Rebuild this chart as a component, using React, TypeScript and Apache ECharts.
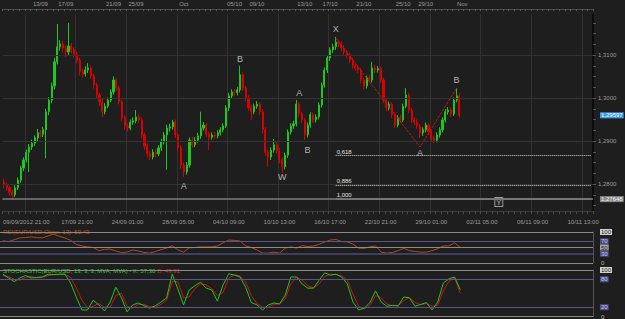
import React, { useEffect, useRef } from "react";
import * as echarts from "echarts";

// ---- price data (EUR/USD, 4H candles) ----
const opens = [
  1.2805, 1.2798, 1.2791, 1.2781, 1.2775, 1.2791, 1.2809, 1.2837, 1.2856, 1.2874,
  1.2886, 1.2895, 1.2907, 1.2919, 1.2916, 1.2926, 1.2968, 1.2995, 1.3028, 1.3084,
  1.3119, 1.3126, 1.3116, 1.3107, 1.3121, 1.3112, 1.3102, 1.3088, 1.3061, 1.3056,
  1.3065, 1.3070, 1.3051, 1.3030, 1.3007, 1.2991, 1.2968, 1.2981, 1.2995, 1.3014,
  1.3042, 1.3023, 1.2991, 1.2954, 1.2935, 1.2930, 1.2944, 1.2947, 1.2956, 1.2949,
  1.2914, 1.2888, 1.2870, 1.2863, 1.2874, 1.2870, 1.2884, 1.2898, 1.2914, 1.2930,
  1.2933, 1.2944, 1.2914, 1.2884, 1.2844, 1.2828, 1.2844, 1.2902, 1.2891, 1.2902,
  1.2912, 1.2930, 1.2937, 1.2916, 1.2909, 1.2914, 1.2912, 1.2919, 1.2926, 1.2935,
  1.2977, 1.3005, 1.3014, 1.3012, 1.3019, 1.3054, 1.3023, 1.3000, 1.2977, 1.2968,
  1.2981, 1.2986, 1.2968, 1.2926, 1.2874, 1.2863, 1.2879, 1.2891, 1.2879, 1.2856,
  1.2840, 1.2867, 1.2921, 1.2935, 1.2940, 1.2986, 1.2963, 1.2949, 1.2914, 1.2937,
  1.2961, 1.2949, 1.2956, 1.2984, 1.3030, 1.3065, 1.3093, 1.3112, 1.3119, 1.3130,
  1.3126, 1.3116, 1.3107, 1.3100, 1.3088, 1.3075, 1.3070, 1.3065, 1.3042, 1.3028,
  1.3047, 1.3042, 1.3070, 1.3065, 1.3068, 1.3042, 1.2995, 1.2977, 1.2986, 1.2961,
  1.2937, 1.2954, 1.2949, 1.2981, 1.3007, 1.2972, 1.2949, 1.2944, 1.2935, 1.2919,
  1.2926, 1.2937, 1.2921, 1.2907, 1.2902, 1.2914, 1.2926, 1.2949, 1.2968, 1.2972,
  1.2963, 1.2995, 1.3005,
];
const closes = [
  1.2798, 1.2791, 1.2781, 1.2775, 1.2791, 1.2809, 1.2837, 1.2856, 1.2874, 1.2886,
  1.2895, 1.2907, 1.2919, 1.2916, 1.2926, 1.2968, 1.2995, 1.3028, 1.3084, 1.3119,
  1.3126, 1.3116, 1.3107, 1.3121, 1.3112, 1.3102, 1.3088, 1.3061, 1.3056, 1.3065,
  1.3070, 1.3051, 1.3030, 1.3007, 1.2991, 1.2968, 1.2981, 1.2995, 1.3014, 1.3042,
  1.3023, 1.2991, 1.2954, 1.2935, 1.2930, 1.2944, 1.2947, 1.2956, 1.2949, 1.2914,
  1.2888, 1.2870, 1.2863, 1.2874, 1.2870, 1.2884, 1.2898, 1.2914, 1.2930, 1.2933,
  1.2944, 1.2914, 1.2884, 1.2844, 1.2828, 1.2844, 1.2902, 1.2891, 1.2902, 1.2912,
  1.2930, 1.2937, 1.2916, 1.2909, 1.2914, 1.2912, 1.2919, 1.2926, 1.2935, 1.2977,
  1.3005, 1.3014, 1.3012, 1.3019, 1.3054, 1.3023, 1.3000, 1.2977, 1.2968, 1.2981,
  1.2986, 1.2968, 1.2926, 1.2874, 1.2863, 1.2879, 1.2891, 1.2879, 1.2856, 1.2840,
  1.2867, 1.2921, 1.2935, 1.2940, 1.2986, 1.2963, 1.2949, 1.2914, 1.2937, 1.2961,
  1.2949, 1.2956, 1.2984, 1.3030, 1.3065, 1.3093, 1.3112, 1.3119, 1.3130, 1.3126,
  1.3116, 1.3107, 1.3100, 1.3088, 1.3075, 1.3070, 1.3065, 1.3042, 1.3028, 1.3047,
  1.3042, 1.3070, 1.3065, 1.3068, 1.3042, 1.2995, 1.2977, 1.2986, 1.2961, 1.2937,
  1.2954, 1.2949, 1.2981, 1.3007, 1.2972, 1.2949, 1.2944, 1.2935, 1.2919, 1.2926,
  1.2937, 1.2921, 1.2907, 1.2902, 1.2914, 1.2926, 1.2949, 1.2968, 1.2972, 1.2963,
  1.2995, 1.3005, 1.2960,
];
const lows = [
  1.2790, 1.2784, 1.2772, 1.2763, 1.2770, 1.2786, 1.2803, 1.2830, 1.2850, 1.2828,
  1.2879, 1.2888, 1.2900, 1.2908, 1.2909, 1.2860, 1.2960, 1.2988, 1.3020, 1.3078,
  1.3110, 1.3105, 1.3095, 1.3100, 1.3103, 1.3094, 1.3080, 1.3052, 1.3047, 1.3050,
  1.3058, 1.3044, 1.3022, 1.2998, 1.2982, 1.2955, 1.2962, 1.2976, 1.2990, 1.3008,
  1.3016, 1.2985, 1.2946, 1.2926, 1.2922, 1.2925, 1.2938, 1.2941, 1.2942, 1.2906,
  1.2880, 1.2862, 1.2855, 1.2857, 1.2862, 1.2865, 1.2877, 1.2892, 1.2833, 1.2922,
  1.2926, 1.2907, 1.2876, 1.2835, 1.2816, 1.2822, 1.2838, 1.2884, 1.2886, 1.2896,
  1.2905, 1.2924, 1.2909, 1.2879, 1.2903, 1.2905, 1.2906, 1.2913, 1.2920, 1.2930,
  1.2970, 1.2998, 1.3004, 1.3006, 1.3013, 1.3016, 1.2993, 1.2970, 1.2949, 1.2962,
  1.2975, 1.2960, 1.2918, 1.2866, 1.2840, 1.2856, 1.2873, 1.2871, 1.2848, 1.2825,
  1.2834, 1.2861, 1.2915, 1.2928, 1.2934, 1.2955, 1.2941, 1.2902, 1.2908, 1.2931,
  1.2942, 1.2943, 1.2950, 1.2978, 1.3024, 1.3058, 1.3086, 1.3105, 1.3112, 1.3119,
  1.3109, 1.3100, 1.3093, 1.3081, 1.3068, 1.3063, 1.3058, 1.3034, 1.3021, 1.3022,
  1.3035, 1.3036, 1.3058, 1.3059, 1.3035, 1.2988, 1.2970, 1.2971, 1.2954, 1.2930,
  1.2932, 1.2942, 1.2944, 1.2976, 1.2965, 1.2942, 1.2937, 1.2928, 1.2907, 1.2912,
  1.2920, 1.2914, 1.2900, 1.2895, 1.2897, 1.2908, 1.2920, 1.2943, 1.2961, 1.2956,
  1.2958, 1.2990, 1.2955,
];
const highs = [
  1.2812, 1.2803, 1.2795, 1.2786, 1.2797, 1.2815, 1.2842, 1.2862, 1.2880, 1.2893,
  1.2903, 1.2913, 1.2928, 1.2925, 1.2933, 1.2975, 1.3002, 1.3036, 1.3093, 1.3172,
  1.3135, 1.3133, 1.3122, 1.3175, 1.3128, 1.3118, 1.3108, 1.3093, 1.3068, 1.3074,
  1.3081, 1.3076, 1.3056, 1.3035, 1.3012, 1.3000, 1.2988, 1.3001, 1.3020, 1.3050,
  1.3048, 1.3028, 1.2996, 1.2960, 1.2941, 1.2950, 1.2955, 1.2972, 1.2962, 1.2955,
  1.2920, 1.2895, 1.2876, 1.2881, 1.2880, 1.2890, 1.2905, 1.2921, 1.2938, 1.2940,
  1.2949, 1.2950, 1.2920, 1.2890, 1.2850, 1.2851, 1.2908, 1.2909, 1.2909, 1.2919,
  1.2968, 1.2944, 1.2942, 1.2922, 1.2920, 1.2921, 1.2925, 1.2932, 1.2941, 1.2983,
  1.3011, 1.3020, 1.3021, 1.3026, 1.3075, 1.3060, 1.3028, 1.3006, 1.2983, 1.2987,
  1.2993, 1.2991, 1.2974, 1.2932, 1.2880, 1.2885, 1.2905, 1.2898, 1.2884, 1.2862,
  1.2873, 1.2927, 1.2941, 1.2947, 1.2995, 1.2990, 1.2968, 1.2954, 1.2943, 1.2967,
  1.2966, 1.2962, 1.2990, 1.3036, 1.3071, 1.3100, 1.3118, 1.3126, 1.3142, 1.3136,
  1.3132, 1.3122, 1.3112, 1.3105, 1.3093, 1.3080, 1.3077, 1.3070, 1.3047, 1.3052,
  1.3053, 1.3084, 1.3076, 1.3074, 1.3073, 1.3047, 1.3000, 1.2992, 1.2990, 1.2966,
  1.2960, 1.2961, 1.2987, 1.3023, 1.3012, 1.2977, 1.2955, 1.2950, 1.2940, 1.2932,
  1.2943, 1.2942, 1.2926, 1.2912, 1.2920, 1.2932, 1.2955, 1.2974, 1.2979, 1.2978,
  1.3001, 1.3023, 1.3010,
];

// ---- indicators (sampled every second candle) ----
const rsi = [
  72, 69, 75, 81, 82, 84, 82, 81, 87, 93,
  86, 81, 73, 60, 55, 52, 50, 40, 44, 45,
  39, 34, 35, 42, 39, 34, 32, 37, 43, 48,
  56, 42, 35, 49, 50, 52, 52, 52, 55, 65,
  74, 73, 71, 55, 50, 42, 32, 32, 35, 32,
  48, 52, 48, 56, 53, 55, 60, 68, 74, 76,
  69, 68, 61, 48, 47, 52, 55, 35, 32, 34,
  40, 47, 40, 37, 35, 35, 40, 46, 55, 55,
  65, 50.43,
];
const stochK = [
  91, 83, 75, 83, 88, 83, 84, 85, 91, 90,
  91, 91, 72, 42, 14, 14, 35, 25, 12, 31,
  63, 40, 10, 25, 29, 23, 18, 23, 31, 40,
  91, 59, 25, 57, 66, 74, 61, 57, 33, 68,
  92, 89, 85, 63, 30, 25, 14, 25, 29, 27,
  46, 85, 85, 70, 61, 61, 78, 94, 89, 91,
  85, 70, 31, 14, 18, 30, 55, 31, 22, 24,
  23, 42, 40, 22, 26, 30, 14, 31, 72, 81,
  85, 57.3,
];
const stochD = [
  88, 86, 80, 78, 84, 86, 83, 84, 88, 90,
  90, 91, 84, 62, 35, 18, 22, 28, 20, 20,
  45, 50, 22, 18, 26, 26, 21, 20, 26, 35,
  75, 75, 40, 42, 60, 70, 68, 60, 45, 52,
  82, 90, 87, 74, 45, 28, 20, 20, 26, 27,
  38, 70, 85, 78, 66, 61, 70, 86, 91, 90,
  88, 78, 48, 22, 16, 24, 45, 40, 27, 23,
  23, 34, 41, 30, 25, 28, 22, 24, 55, 76,
  83, 49.91,
];

// ---- axis labels ----
const bottomLabels = [
  "09/09/2012 21:00", "17/09 21:00", "24/09 01:00", "28/09 05:00", "04/10 09:00", "10/10 13:00",
  "16/10 17:00", "22/10 21:00", "29/10 01:00", "02/11 05:00", "06/11 09:00", "10/11 13:00",
];
const topLabels = ["13/09", "17/09", "21/09", "25/09", "Oct", "05/10", "09/10", "13/10", "17/10", "21/10", "25/10", "29/10", "Nov"];
const topLabelIdx = [13, 22, 39, 47, 64, 82, 90, 107, 116, 128, 142, 150, 163];
const priceTicks = [1.28, 1.29, 1.3, 1.31];
const priceMinorTicks = [
  1.275, 1.2775, 1.28, 1.2825, 1.285, 1.2875, 1.29, 1.2925, 1.295, 1.2975,
  1.3, 1.3025, 1.305, 1.3075, 1.31, 1.3125, 1.315, 1.3175,
];

// ---- annotations ----
const lastPrice = 1.29597;
const baseLevel = 1.27648;
const fibNames = ["0,618", "0,886", "1,000"];
const fibValues = [1.2866, 1.2798, 1.27648];
const waveNames = ["A", "B", "W", "A", "B", "X", "A", "B"];
const waveIdx = [64, 84, 99, 105, 108, 118, 148, 161];
const wavePrice = [1.27953, 1.30907, 1.28163, 1.30116, 1.28791, 1.31605, 1.28721, 1.30419];
const zigIdx = [118, 148, 161];
const zigPrice = [1.31395, 1.2886, 1.30233];
const rsiLevels = [100, 70, 50, 30, 0];
const stochLevels = [100, 80, 20, 0];

const FONT = "'Liberation Sans', Arial, sans-serif";
const N_CAT = 210;
const fmt = (v: number) => v.toFixed(4).replace(".", ",");
const fmt5 = (v: number) => v.toFixed(5).replace(".", ",");

function levelStyle(v: number, isStoch: boolean) {
  const blue = isStoch ? v === 80 || v === 20 : v === 70 || v === 30;
  if (blue) {
    return {
      lineStyle: { color: v === 30 ? "#3f3f62" : "#56568c", width: v === 30 ? 2 : 1, type: "solid" },
      label: { show: true, position: "end", distance: 7, formatter: String(v), color: "#c9c9f2", backgroundColor: "#4c4c8a", padding: [0, 1], fontSize: 6, fontFamily: FONT },
    };
  }
  if (v === 0) {
    return {
      lineStyle: { color: "#8a8a8a", width: 1, type: "solid" },
      label: { show: true, position: "end", distance: 8, formatter: "0", color: "#bbbbbb", fontSize: 6, fontFamily: FONT },
    };
  }
  return {
    lineStyle: { color: "#8a8a8a", width: 1, type: "solid" },
    label: { show: true, position: "end", distance: 7, formatter: String(v), color: "#222", backgroundColor: v === 100 ? "#d2d2d2" : "#a6a6a6", padding: [0, 1], fontSize: 6, fontFamily: FONT },
  };
}

function buildOption() {
  const cats = Array.from({ length: N_CAT }, (_, i) => String(i));
  const lowCats = Array.from({ length: N_CAT / 2 }, (_, i) => String(i));
  const candles = opens.map((o, i) => [o, closes[i], lows[i], highs[i]]);

  const gridLines = priceTicks.map((p) => ({
    yAxis: p,
    lineStyle: { color: "#333333", width: 1, type: "solid" },
    label: { show: false },
  }));

  const fibLines = fibNames.map((n, k) => [
    {
      coord: [118, fibValues[k]],
      lineStyle: k === 2
        ? { color: "#7c7c7c", width: 1.5, type: "solid" }
        : { color: "#d6d6c4", width: 1, type: "dotted" },
      label: { show: true, position: "insideStartTop", distance: 1, formatter: n, color: "#e2e2e2", fontSize: 6, fontFamily: FONT },
    },
    { coord: [N_CAT - 1, fibValues[k]] },
  ]);

  const axisText = { color: "#9c9c9c", fontSize: 6, fontFamily: FONT };

  return {
    animation: false,
    backgroundColor: "#1e1e1e",
    textStyle: { fontFamily: FONT },
    grid: [
      { left: 0, top: 14, width: 593, height: 197 },
      { left: 0, top: 232, width: 593, height: 31 },
      { left: 0, top: 270, width: 593, height: 46.5 },
    ],
    xAxis: [
      {
        type: "category", gridIndex: 0, data: cats, boundaryGap: true,
        axisLine: { show: true, lineStyle: { color: "#3a3a3a" } },
        axisTick: { show: true, interval: (i: number) => i % 2 === 0, length: 3, lineStyle: { color: "#4a4a4a" } },
        axisLabel: {
          show: true, interval: (i: number) => i % 18 === 8,
          formatter: (_v: string, i: number) => bottomLabels[(i - 8) / 18] ?? "",
          margin: 8, ...axisText,
        },
        splitLine: { show: true, interval: (i: number) => i % 18 === 8, lineStyle: { color: "#313131", width: 1 } },
      },
      {
        type: "category", gridIndex: 0, data: cats, boundaryGap: true, position: "top", offset: 5,
        axisLine: { show: true, lineStyle: { color: "#4a4a4a" } },
        axisTick: { show: true, inside: true, interval: (i: number) => i % 2 === 0, length: 2, lineStyle: { color: "#5a5a5a" } },
        axisLabel: {
          show: true, interval: (i: number) => topLabelIdx.includes(i),
          formatter: (_v: string, i: number) => topLabels[topLabelIdx.indexOf(i)] ?? "",
          margin: 2, ...axisText,
        },
        splitLine: { show: false },
      },
      {
        type: "category", gridIndex: 1, data: lowCats, boundaryGap: true,
        axisLine: { show: false }, axisTick: { show: false }, axisLabel: { show: false }, splitLine: { show: false },
      },
      {
        type: "category", gridIndex: 2, data: lowCats, boundaryGap: true,
        axisLine: { show: false }, axisTick: { show: false }, axisLabel: { show: false }, splitLine: { show: false },
      },
    ],
    yAxis: [
      {
        type: "value", gridIndex: 0, position: "right", min: 1.273721, max: 1.319535,
        splitLine: { show: false },
        axisLine: { show: true, lineStyle: { color: "#0c0c0c", width: 2 } },
        axisTick: { show: true, customValues: priceMinorTicks, length: 3, lineStyle: { color: "#555" } },
        axisLabel: { customValues: priceTicks, formatter: fmt, margin: 5, ...axisText },
      },
      {
        type: "value", gridIndex: 1, position: "right", min: 0, max: 100,
        splitLine: { show: false }, axisTick: { show: false }, axisLabel: { show: false },
        axisLine: { show: true, lineStyle: { color: "#555" } },
      },
      {
        type: "value", gridIndex: 2, position: "right", min: 0, max: 100,
        splitLine: { show: false }, axisTick: { show: false }, axisLabel: { show: false },
        axisLine: { show: true, lineStyle: { color: "#555" } },
      },
    ],
    series: [
      {
        type: "candlestick", xAxisIndex: 0, yAxisIndex: 0, data: candles, barWidth: 1.6,
        itemStyle: { color: "#1cc81c", color0: "#d80000", borderColor: "#1cc81c", borderColor0: "#d80000", borderWidth: 1 },
        markLine: {
          silent: true, symbol: ["none", "none"], animation: false, precision: 5,
          data: [
            ...gridLines,
            {
              yAxis: baseLevel,
              lineStyle: { color: "#7c7c7c", width: 1.5, type: "solid" },
              label: { show: true, position: "end", distance: 7, formatter: fmt5(baseLevel), color: "#f0f0f0", backgroundColor: "#8a8a8a", padding: [0, 1], fontSize: 6, fontFamily: FONT },
            },
            {
              yAxis: lastPrice,
              lineStyle: { color: "rgba(0,0,0,0)", width: 0 },
              label: { show: true, position: "end", distance: 7, formatter: fmt5(lastPrice), color: "#ffffff", backgroundColor: "#3d9be9", padding: [0, 1], fontSize: 6, fontFamily: FONT },
            },
            ...fibLines,
          ],
        },
      },
      {
        type: "line", xAxisIndex: 0, yAxisIndex: 0, symbol: "none",
        data: zigIdx.map((x, k) => [x, zigPrice[k]]),
        lineStyle: { color: "#c41414", width: 1, type: [3, 1] },
      },
      {
        type: "scatter", xAxisIndex: 0, yAxisIndex: 0, symbolSize: 2,
        itemStyle: { color: "rgba(0,0,0,0)" },
        data: waveNames.map((n, k) => ({ name: n, value: [waveIdx[k], wavePrice[k]] })),
        label: { show: true, position: "inside", formatter: "{b}", color: "#d8d8d8", fontSize: 9, fontFamily: FONT },
        z: 5,
      },
      {
        type: "scatter", xAxisIndex: 0, yAxisIndex: 0, symbol: "rect", symbolSize: [8, 9],
        itemStyle: { color: "#262626", borderColor: "#bdbdbd", borderWidth: 1 },
        data: [{ name: "Y", value: [176, 1.27581] }],
        label: { show: true, position: "inside", formatter: "{b}", color: "#dddddd", fontSize: 7, fontFamily: FONT },
      },
      {
        type: "line", xAxisIndex: 2, yAxisIndex: 1, symbol: "none", data: rsi,
        lineStyle: { color: "#b5461b", width: 1 },
        markLine: {
          silent: true, symbol: ["none", "none"], animation: false,
          data: rsiLevels.map((v) => ({ yAxis: v, ...levelStyle(v, false) })),
        },
      },
      {
        type: "line", xAxisIndex: 3, yAxisIndex: 2, symbol: "none", data: stochD,
        lineStyle: { color: "#d01414", width: 1 },
        markLine: {
          silent: true, symbol: ["none", "none"], animation: false,
          data: stochLevels.map((v) => ({ yAxis: v, ...levelStyle(v, true) })),
        },
      },
      {
        type: "line", xAxisIndex: 3, yAxisIndex: 2, symbol: "none", data: stochK,
        lineStyle: { color: "#1ec81e", width: 1 },
      },
    ],
    graphic: [
      {
        type: "text", left: 3, top: 229, silent: true,
        style: { text: "RSI(EUR/USD,Close, 13): 50,43", fill: "#c0521e", fontSize: 6, fontFamily: FONT },
      },
      {
        type: "text", left: 3, top: 268, silent: true,
        style: {
          text: "{g|STOCHASTIC(EUR/USD, 13, 3, 3, MVA, MVA) - K: 57,30} {r|D: 49,91}",
          fontSize: 6, fontFamily: FONT,
          rich: {
            g: { fill: "#22cc22", fontSize: 6, fontFamily: FONT },
            r: { fill: "#dd2222", fontSize: 6, fontFamily: FONT },
          },
        },
      },
    ],
  };
}

export default function App() {
  const ref = useRef<HTMLDivElement>(null);
  useEffect(() => {
    if (!ref.current) return;
    const chart = echarts.init(ref.current, null, { renderer: "svg" });
    chart.setOption(buildOption() as any);
    return () => chart.dispose();
  }, []);
  return <div ref={ref} style={{ position: "fixed", left: 0, top: 0, width: 625, height: 319 }} />;
}
